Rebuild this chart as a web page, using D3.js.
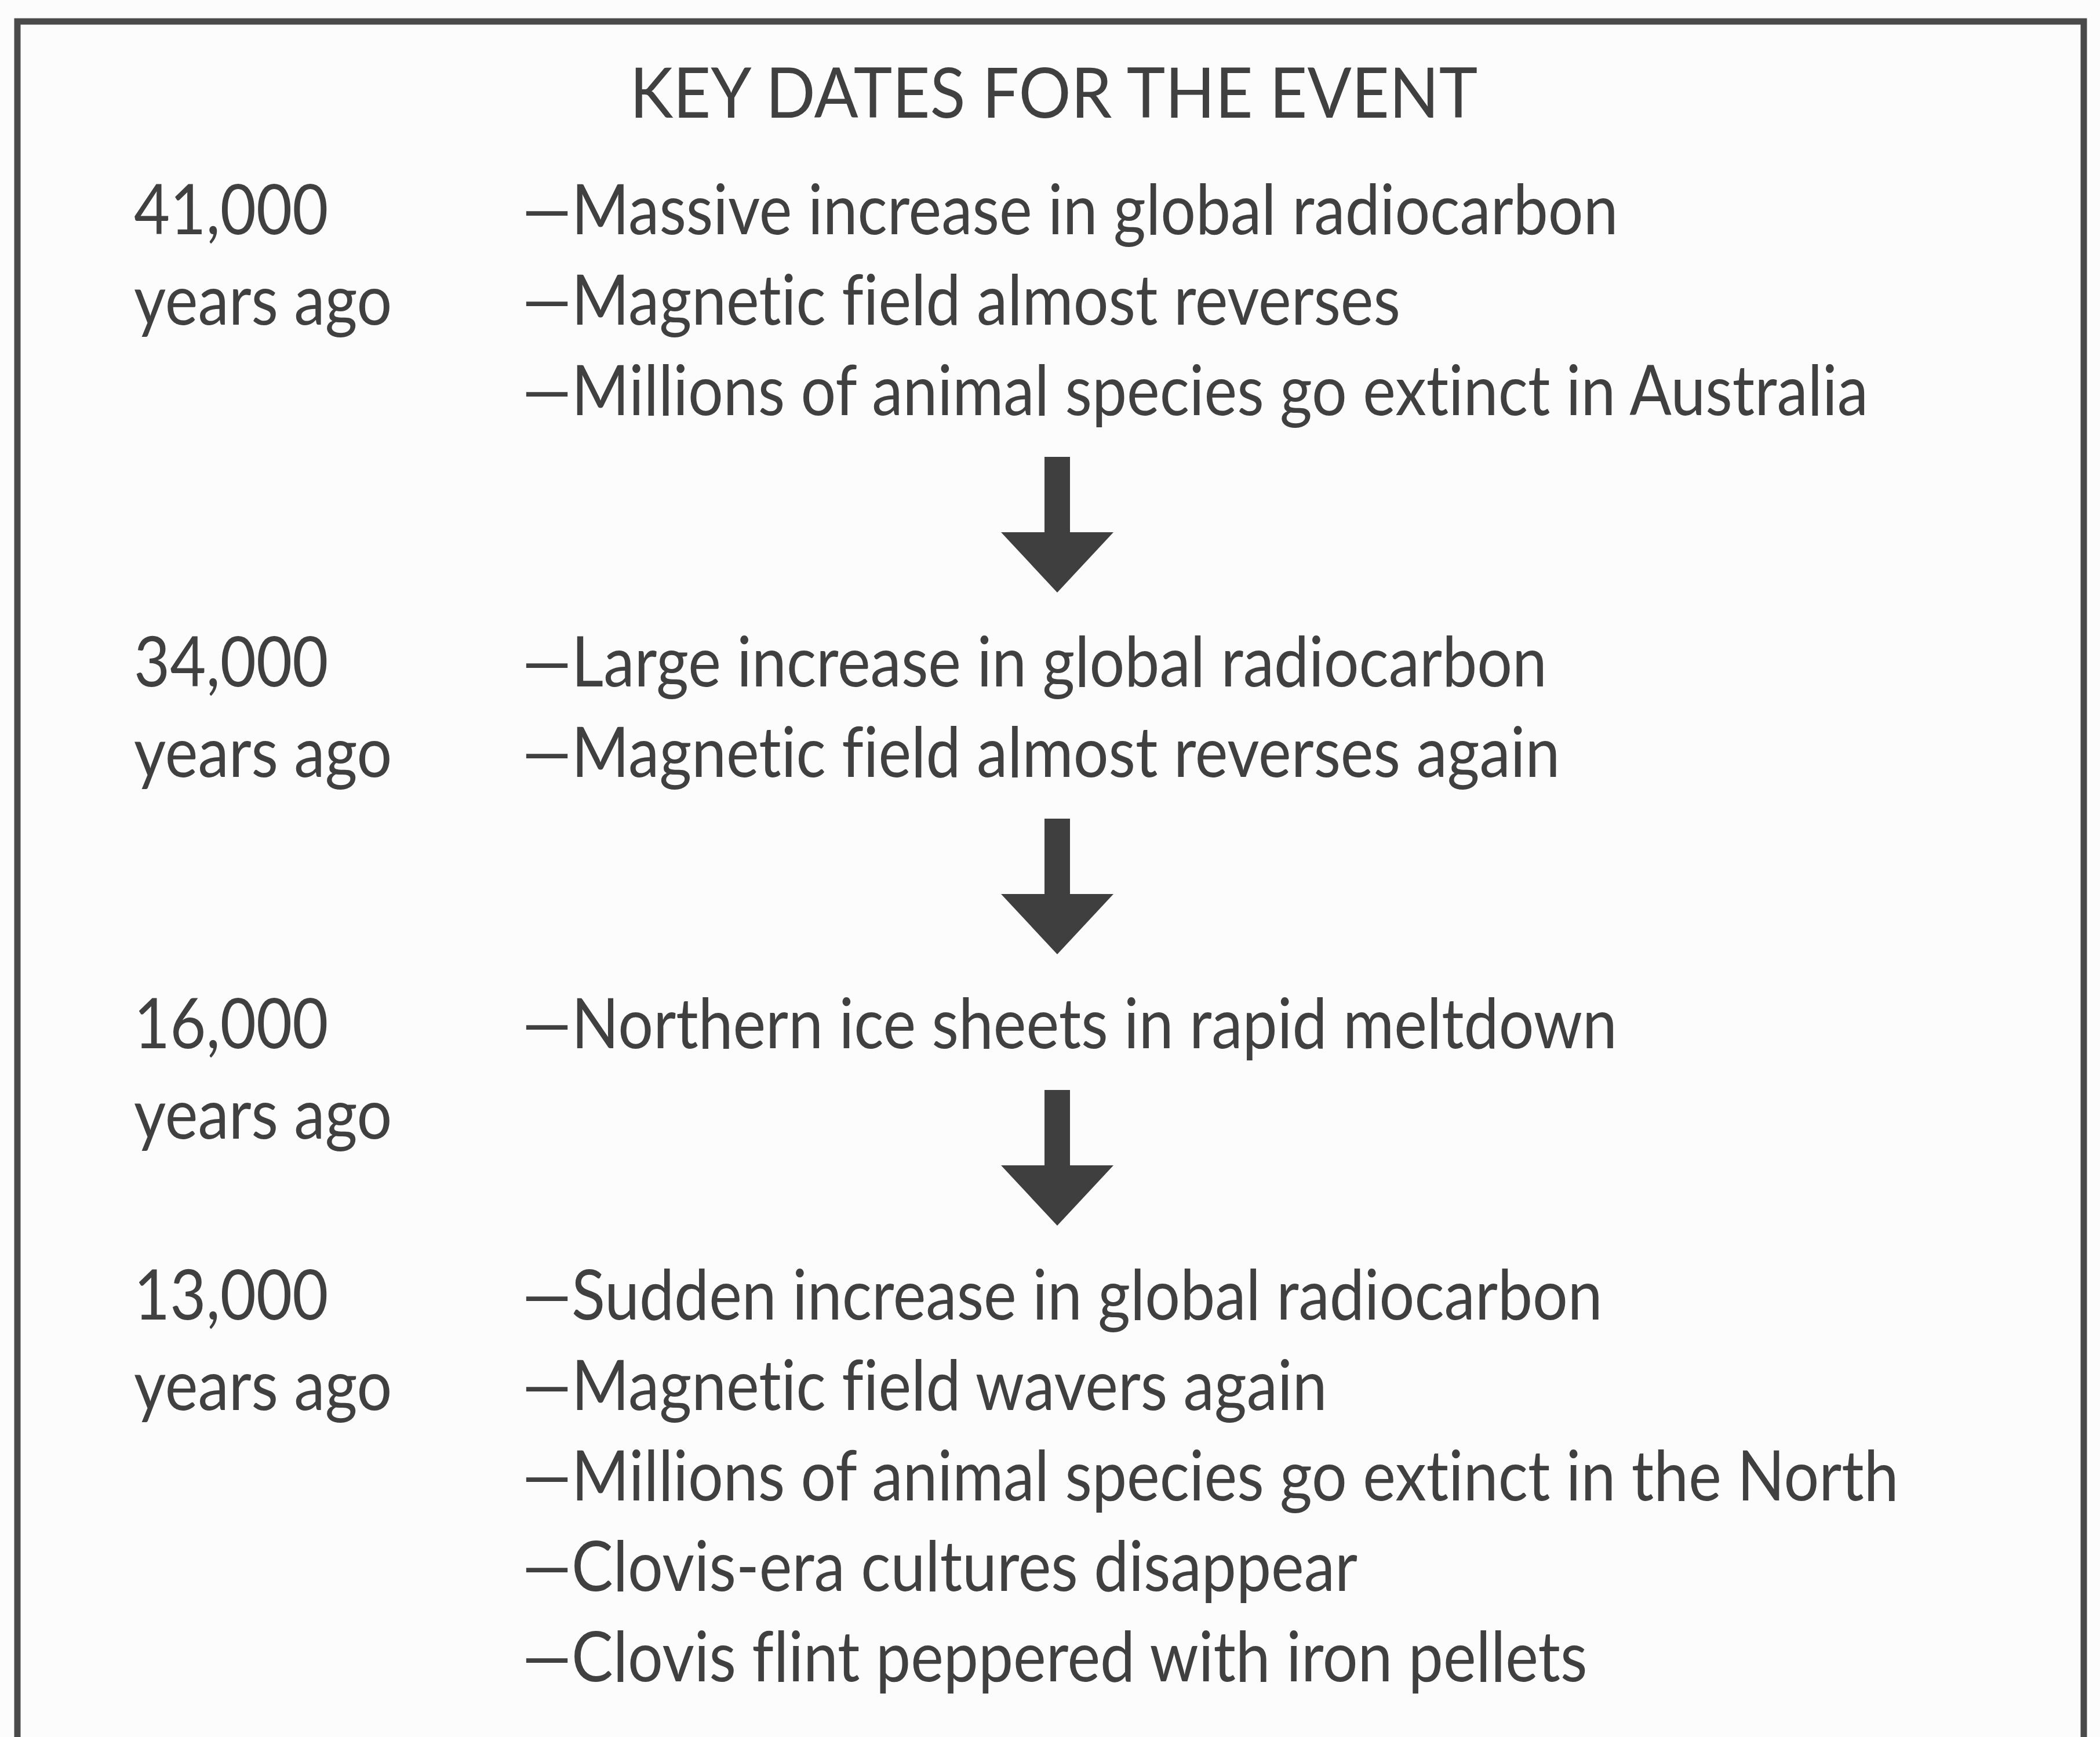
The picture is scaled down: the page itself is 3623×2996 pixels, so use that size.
<!DOCTYPE html>
<meta charset="utf-8">
<style>
body { margin: 0; background: #fcfcfc; }
.txt { font-family: Lato, "Open Sans", sans-serif; fill: #404040; font-variant-ligatures: none; }
.box { fill: none; stroke: #4a4a4a; stroke-width: 11px; }
.arrow { fill: #3f3f3f; }
</style>
<body>
<script src="https://d3js.org/d3.v7.min.js"></script>
<script>

var title = "KEY DATES FOR THE EVENT";
var dates = ["41,000", "34,000", "16,000", "13,000"];
var unit = "years ago";
var events = [
  ["Massive increase in global radiocarbon",
   "Magnetic field almost reverses",
   "Millions of animal species go extinct in Australia"],
  ["Large increase in global radiocarbon",
   "Magnetic field almost reverses again"],
  ["Northern ice sheets in rapid meltdown"],
  ["Sudden increase in global radiocarbon",
   "Magnetic field wavers again",
   "Millions of animal species go extinct in the North",
   "Clovis-era cultures disappear",
   "Clovis flint peppered with iron pellets"]
];

var W = 3623, H = 2996;
var svg = d3.select("body").append("svg")
    .attr("width", W)
    .attr("height", H);

// frame, open at the bottom (cropped in the original)
svg.append("path")
    .attr("class", "box")
    .attr("d", "M30," + (H + 20) + "V37H3595V" + (H + 20));

// work out line slots: each group starts 3 slots after the last event of the previous one
var slot = 0, groups = [];
dates.forEach(function(d, i) {
  groups.push({date: d, items: events[i], start: slot});
  slot += events[i].length - 1 + 3;
});
var lastSlot = groups[groups.length - 1].start + events[events.length - 1].length - 1;

var y = d3.scaleLinear().domain([0, lastSlot]).range([404, 2900]);
var xDate = 231, xEvent = 901, fs = 120;

// title
var t = svg.append("text")
    .attr("class", "txt")
    .attr("x", 0).attr("y", 0)
    .style("font-size", fs + "px")
    .text(title);
var tw = t.node().getComputedTextLength();
var tsx = 1463 / tw;
t.attr("transform", "translate(" + (1818 - 1463 / 2) + ",203) scale(" + tsx + ",1)");

// measure body text compression from the longest line
var probe = svg.append("text").attr("class", "txt").style("font-size", fs + "px")
    .text("\u2014" + events[3][2]);
var sx = 2375 / probe.node().getComputedTextLength();
probe.remove();

function line(x, yy, s) {
  svg.append("text")
      .attr("class", "txt")
      .style("font-size", fs + "px")
      .attr("transform", "translate(" + x + "," + yy + ") scale(" + sx + ",1)")
      .text(s);
}

groups.forEach(function(g) {
  line(xDate, y(g.start), g.date);
  line(xDate, y(g.start + 1), unit);
  g.items.forEach(function(it, j) {
    line(xEvent, y(g.start + j), "\u2014" + it);
  });
});

// arrows between groups
var arrowPath = d3.path();
var sw = 22, hw = 97, shaft = 130, head = 104;
arrowPath.moveTo(-sw, 0);
arrowPath.lineTo(sw, 0);
arrowPath.lineTo(sw, shaft);
arrowPath.lineTo(hw, shaft);
arrowPath.lineTo(0, shaft + head);
arrowPath.lineTo(-hw, shaft);
arrowPath.lineTo(-sw, shaft);
arrowPath.closePath();

for (var i = 0; i < groups.length - 1; i++) {
  var last = groups[i].start + groups[i].items.length - 1;
  var mid = (y(last) + y(groups[i + 1].start)) / 2 - 45;
  svg.append("path")
      .attr("class", "arrow")
      .attr("d", arrowPath.toString())
      .attr("transform", "translate(1824," + (mid - (shaft + head) / 2) + ")");
}

</script>
</body>
